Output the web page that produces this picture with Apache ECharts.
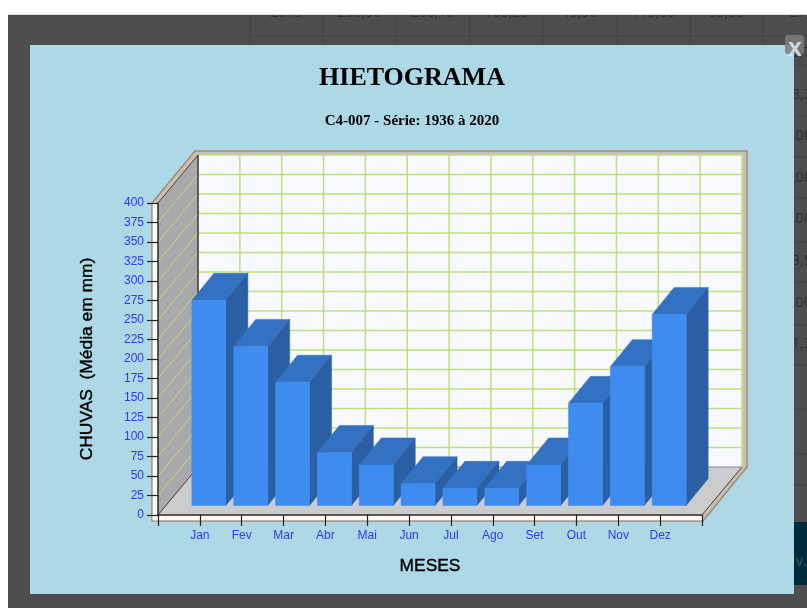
<!DOCTYPE html>
<html>
<head>
<meta charset="utf-8">
<title>Hietograma</title>
<style>
  html, body { margin: 0; padding: 0; background: #fff; }
  #chart { width: 807px; height: 608px; filter: blur(0.4px); }
</style>
</head>
<body>
<div id="chart"></div>
<script src="https://cdn.jsdelivr.net/npm/echarts@6/dist/echarts.min.js"></script>
<script>
  // dados do hietograma (média em mm)
  const meses = ['', 'Jan', 'Fev', 'Mar', 'Abr', 'Mai', 'Jun', 'Jul', 'Ago', 'Set', 'Out', 'Nov', 'Dez', '']
  const chuvas = [263, 204, 158, 68, 52, 28, 22, 22, 52, 131, 178, 245]
  const marcasY = [0, 25, 50, 75, 100, 125, 150, 175, 200, 225, 250, 275, 300, 325, 350, 375, 400]

  // tabela que fica atras do modal
  const anoTopo = ['2015', '256,50', '260,10', '160,20', '45,50', '115,00', '95,00', '27,']
  const textosDireita = ['5,7', '3,3', ',00', ',00', ',00', '3,5', ',00', '1,3']

  // perspectiva do grafico
  const fundo = [40, -48]
  const barraFrente = [9, -9.5]
  const barraFundo = [22, -27]
  const meiaBarra = 17

  const polygon = (points, fill, stroke, lineWidth) => ({
    type: 'polygon',
    shape: { points },
    style: { fill, stroke: stroke || fill, lineWidth: lineWidth || 0.5 }
  })
  const line = (a, b, stroke, lineWidth) => ({
    type: 'line',
    shape: { x1: a[0], y1: a[1], x2: b[0], y2: b[1] },
    style: { stroke, lineWidth }
  })

  function renderParedes (params, api) {
    const c = params.coordSys
    const x0 = c.x
    const x1 = c.x + c.width
    const yTop = c.y
    const yBase = c.y + c.height
    const dx = fundo[0]
    const dy = fundo[1]
    const verde = '#bce07a'
    const escuro = '#4a3a2c'
    const els = []

    // moldura externa
    els.push(polygon([[x0 - 6, yTop], [x0 + dx - 3, yTop + dy - 4], [x1 + dx + 5, yTop + dy - 4], [x1 + dx + 5, yBase + dy], [x1 + 1, yBase + 6], [x0 - 6, yBase + 6]], '#c8c0b8', '#a88a74', 1.5))
    els.push(polygon([[x0 - 5, yTop], [x0, yTop], [x0, yBase + 5], [x0 - 5, yBase + 5]], '#fbfaff', '#fbfaff'))
    els.push(polygon([[x0 - 5, yBase], [x1, yBase], [x1, yBase + 5], [x0 - 5, yBase + 5]], '#fbfaff', '#fbfaff'))

    // paredes e piso
    els.push(polygon([[x0 + dx, yTop + dy], [x1 + dx, yTop + dy], [x1 + dx, yBase + dy], [x0 + dx, yBase + dy]], '#f8f9ff'))
    els.push(polygon([[x0, yTop], [x0 + dx, yTop + dy], [x0 + dx, yBase + dy], [x0, yBase]], '#a9a9ac'))
    els.push(polygon([[x0, yBase], [x0 + dx, yBase + dy], [x1 + dx, yBase + dy], [x1, yBase]], '#cccbce'))

    // grade horizontal
    marcasY.forEach((v) => {
      const y = api.coord([0, v])[1]
      if (v > 0) {
        els.push(line([x0 + dx, y + dy], [x1 + dx, y + dy], verde, 1.5))
        els.push(line([x0, y], [x0 + dx, y + dy], verde, 0.9))
      }
    })
    // grade vertical
    meses.forEach((m, i) => {
      const x = api.coord([i, 0])[0]
      if (i > 0) {
        els.push(line([x + dx, yTop + dy], [x + dx, yBase + dy], verde, 1.5))
        if (i < meses.length - 1) {
          els.push(line([x, yBase], [x + dx, yBase + dy], verde, 0.9))
        }
      }
    })

    // arestas
    els.push(line([x0 + dx, yTop + dy], [x0 + dx, yBase + dy], escuro, 1.5))
    els.push(line([x0, yTop], [x0 + dx, yTop + dy], escuro, 1))
    els.push(line([x0, yBase], [x0 + dx, yBase + dy], escuro, 1))
    els.push(line([x1, yBase], [x1 + dx, yBase + dy], escuro, 1))
    els.push(line([x0 + dx, yBase + dy], [x1 + dx, yBase + dy], '#8f8f92', 1))

    return { type: 'group', children: els }
  }

  function renderBarra (params, api) {
    const topo = api.coord([api.value(0), api.value(1)])
    const base = api.coord([api.value(0), 0])
    const xa = topo[0] - meiaBarra + barraFrente[0]
    const xb = topo[0] + meiaBarra + barraFrente[0]
    const yt = topo[1] + barraFrente[1]
    const yb = base[1] + barraFrente[1]
    const dx = barraFundo[0]
    const dy = barraFundo[1]
    return {
      type: 'group',
      children: [
        polygon([[xa, yt], [xb, yt], [xb + dx, yt + dy], [xa + dx, yt + dy]], '#3371c2'),
        polygon([[xb, yt], [xb + dx, yt + dy], [xb + dx, yb + dy], [xb, yb]], '#2a5fa3'),
        polygon([[xa, yt], [xb, yt], [xb, yb], [xa, yb]], '#3f8cf0')
      ]
    }
  }

  // fundo da pagina, atras do modal
  const fundoPagina = [
    { type: 'rect', z: -20, shape: { x: 8, y: 14, width: 799, height: 594 }, style: { fill: '#4d4d4d' } }
  ]
  const colunas = [250, 323, 396, 470, 543, 617, 690, 763]
  colunas.forEach((x) => {
    fundoPagina.push({ type: 'line', z: -19, shape: { x1: x, y1: 14, x2: x, y2: 45 }, style: { stroke: '#434343', lineWidth: 1 } })
  })
  fundoPagina.push({ type: 'line', z: -19, shape: { x1: 250, y1: 36, x2: 807, y2: 36 }, style: { stroke: '#434343', lineWidth: 1 } })
  ;[65, 116, 157, 198, 242, 282, 325, 365, 409, 454, 485].forEach((y) => {
    fundoPagina.push({ type: 'line', z: -19, shape: { x1: 794, y1: y, x2: 807, y2: y }, style: { stroke: '#434343', lineWidth: 1 } })
  })
  anoTopo.forEach((t, i) => {
    fundoPagina.push({
      type: 'text', z: -18,
      style: { x: colunas[i] + 36.5, y: 13, text: t, fill: '#2e2e2e', font: '14px "Open Sans"', align: 'center', verticalAlign: 'middle' }
    })
  })
  textosDireita.forEach((t, i) => {
    fundoPagina.push({
      type: 'text', z: -18,
      style: { x: 792, y: 53 + i * 41.6, text: t, fill: '#2e2e2e', font: '14px "Open Sans"', align: 'left', verticalAlign: 'middle' }
    })
  })
  fundoPagina.push(
    { type: 'rect', z: -17, shape: { x: 794, y: 522, width: 13, height: 63 }, style: { fill: '#012b3c' } },
    { type: 'text', z: -16, style: { x: 796, y: 562, text: 'v.', fill: '#4a5a62', font: '14px "Open Sans"', verticalAlign: 'middle' } },
    { type: 'rect', z: -15, shape: { x: 0, y: 0, width: 807, height: 14 }, style: { fill: '#ffffff' } },
    { type: 'rect', z: -15, shape: { x: 8, y: 14, width: 799, height: 1 }, style: { fill: '#dcdcdc' } },
    { type: 'rect', z: -10, shape: { x: 30, y: 45, width: 764, height: 549 }, style: { fill: '#add8e6' } },
    { type: 'rect', z: -9, shape: { x: 785, y: 35, width: 19, height: 19, r: 3 }, style: { fill: 'rgba(125,125,125,0.85)' } },
    { type: 'text', z: -8, style: { x: 795, y: 49, text: 'x', fill: 'rgba(225,232,235,0.85)', font: 'bold 25px "Liberation Sans"', align: 'center', verticalAlign: 'middle' } }
  )

  const chart = echarts.init(document.getElementById('chart'), null, { renderer: 'canvas' })
  chart.setOption({
    animation: false,
    backgroundColor: 'transparent',
    title: [
      {
        text: 'HIETOGRAMA',
        left: 407,
        top: 60,
        textAlign: 'center',
        textStyle: { fontFamily: 'Liberation Serif', fontSize: 26, fontWeight: 'bold', color: '#000' }
      },
      {
        text: 'C4-007 - Série: 1936 à 2020',
        left: 407,
        top: 109,
        textAlign: 'center',
        textStyle: { fontFamily: 'Liberation Serif', fontSize: 15, fontWeight: 'bold', color: '#000' }
      }
    ],
    graphic: { elements: fundoPagina },
    grid: { left: 158, top: 203, width: 544, height: 312 },
    xAxis: {
      type: 'category',
      data: meses,
      boundaryGap: false,
      z: 5,
      name: 'MESES',
      nameLocation: 'middle',
      nameGap: 43,
      nameTextStyle: { fontFamily: 'Liberation Sans', fontSize: 17.4, color: '#000', textBorderColor: '#000', textBorderWidth: 0.4 },
      axisLine: { lineStyle: { color: '#33291f', width: 1.5 } },
      axisTick: { length: 11, interval: 0, lineStyle: { color: '#222', width: 1.2 } },
      axisLabel: { interval: 0, margin: 15, fontFamily: 'Liberation Sans', fontSize: 12, color: '#3434ff' },
      splitLine: { show: false }
    },
    yAxis: {
      type: 'value',
      min: 0,
      max: 400,
      interval: 25,
      z: 5,
      name: 'CHUVAS  (Média em mm)',
      nameLocation: 'middle',
      nameGap: 62,
      nameTextStyle: { fontFamily: 'Liberation Sans', fontSize: 17.4, color: '#000', textBorderColor: '#000', textBorderWidth: 0.4 },
      axisLine: { show: true, lineStyle: { color: '#33291f', width: 1.5 } },
      axisTick: { show: true, length: 11, lineStyle: { color: '#222', width: 1.2 } },
      axisLabel: { margin: 14, fontFamily: 'Liberation Sans', fontSize: 12, color: '#3434ff' },
      splitLine: { show: false }
    },
    series: [
      {
        type: 'custom',
        z: 1,
        silent: true,
        renderItem: renderParedes,
        data: [[0, 0]],
        encode: { x: 0, y: 1 }
      },
      {
        type: 'custom',
        z: 3,
        renderItem: renderBarra,
        data: chuvas.map((v, i) => [i + 1, v]),
        encode: { x: 0, y: 1 }
      }
    ]
  })
</script>
</body>
</html>
